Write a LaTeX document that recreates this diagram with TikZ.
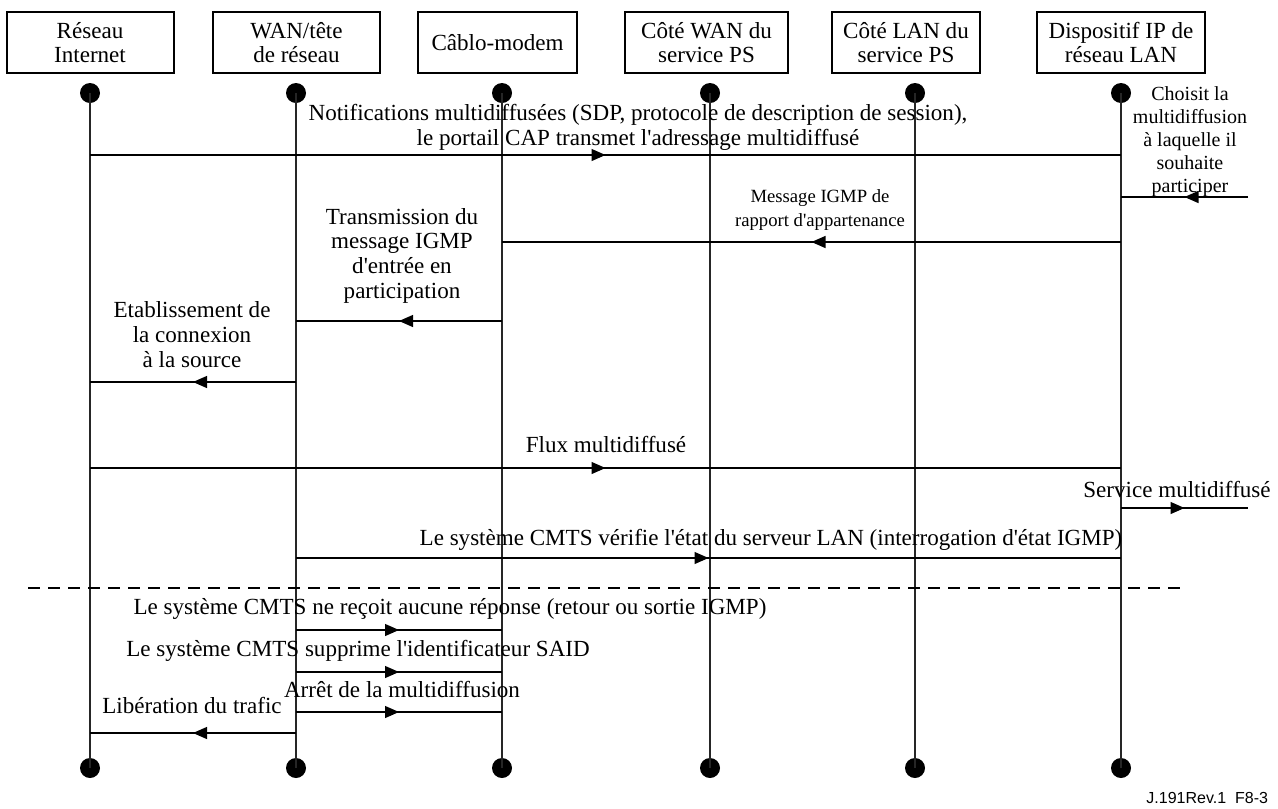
\documentclass[tikz,border=0pt]{standalone}
\usepackage{fontspec}
% a separate family keeps straight apostrophes (no TeX ligature mapping)
\newfontfamily\txtfont{Liberation Serif}
\newfontfamily\footfont{Liberation Sans}
\usetikzlibrary{arrows.meta,decorations.markings}

\begin{document}
\begin{tikzpicture}[x=0.75pt,y=-0.75pt,
  every node/.style={inner sep=0pt, outer sep=0pt},
  actor/.style={draw, line width=1.5pt, align=center, minimum height=45.75pt,
    font=\txtfont\fontsize{17.3}{18.4}\selectfont},
  dot/.style={circle, fill=black, minimum size=15pt},
  life/.style={line width=0.8pt, draw=black!85},
  msg/.style={line width=0.9pt, postaction={decorate},
    decoration={markings, mark=at position 0.5 with {\arrow{Triangle[length=10.5pt,width=9pt]}}}},
  lbl/.style={align=center, anchor=south, text depth=0pt,
    font=\txtfont\fontsize{17.3}{18.4}\selectfont},
  smalllbl/.style={lbl, font=\txtfont\fontsize{14}{18}\selectfont},
  sidelbl/.style={lbl, font=\txtfont\fontsize{15}{17.25}\selectfont},
  sep/.style={line width=1.5pt, dash pattern=on 9pt off 6pt},
]
\useasboundingbox (0,0) rectangle (1278,808);

% participants
\node[actor, minimum width=125.25pt] (b1) at (90,42.5)   {Réseau\\Internet};
\node[actor, minimum width=125.25pt] (b2) at (296.5,42.5) {WAN/tête\\de réseau};
\node[actor, minimum width=119.25pt] (b3) at (497.5,42.5) {Câblo-modem};
\node[actor, minimum width=122.25pt] (b4) at (706.5,42.5) {Côté WAN du\\service PS};
\node[actor, minimum width=111pt]    (b5) at (906,42.5)   {Côté LAN du\\service PS};
\node[actor, minimum width=126pt]    (b6) at (1121,42.5)  {Dispositif IP de\\réseau LAN};

% lifeline ends
\foreach \i/\x in {1/90,2/296,3/502,4/710,5/915,6/1121}{
  \node[dot] (t\i) at (\x,93) {};
  \node[dot] (e\i) at (\x,768) {};
  \draw[life] (t\i.center) -- (e\i.center);
}

% message levels
\coordinate (y1) at (0,155);
\coordinate (y2) at (0,242);
\coordinate (y3) at (0,321);
\coordinate (y4) at (0,382);
\coordinate (y5) at (0,468);
\coordinate (y6) at (0,558);
\coordinate (y7) at (0,630);
\coordinate (y8) at (0,672);
\coordinate (y9) at (0,712);
\coordinate (y10) at (0,733);
\coordinate (ext1) at (1248,197);
\coordinate (ext2) at (1248,508);
\coordinate (dashL) at (28,588);
\coordinate (dashR) at (1185,588);

% messages
\draw[msg] (t1 |- y1) -- (t6 |- y1);
\node[lbl] (l1) at (638,145) {Notifications multidiffusées (SDP, protocole de description de session),\\le portail CAP transmet l'adressage multidiffusé};

\draw[msg] (ext1) -- (t6 |- ext1);
\node[sidelbl] (l0) at (1190,192) {Choisit la\\multidiffusion\\à laquelle il\\souhaite\\participer};

\draw[msg] (t6 |- y2) -- (t3 |- y2);
\node[smalllbl] (l2) at (820,226) {Message IGMP de\\rapport d'appartenance};

\draw[msg] (t3 |- y3) -- (t2 |- y3);
\node[lbl] (l3) at (402,298) {Transmission du\\message IGMP\\d'entrée en\\participation};

\draw[msg] (t2 |- y4) -- (t1 |- y4);
\node[lbl] (l4) at (192,367) {Etablissement de\\la connexion\\à la source};

\draw[msg] (t1 |- y5) -- (t6 |- y5);
\node[lbl] (l5) at (606,452) {Flux multidiffusé};

\draw[msg] (t6 |- ext2) -- (ext2);
\node[lbl] (l6) at (1177,497) {Service multidiffusé};

\draw[msg] (t2 |- y6) -- (t6 |- y6);
\node[lbl] (l7) at (771,545) {Le système CMTS vérifie l'état du serveur LAN (interrogation d'état IGMP)};

\draw[sep] (dashL) -- (dashR);

\draw[msg] (t2 |- y7) -- (t3 |- y7);
\node[lbl] (l8) at (450,614) {Le système CMTS ne reçoit aucune réponse (retour ou sortie IGMP)};

\draw[msg] (t2 |- y8) -- (t3 |- y8);
\node[lbl] (l9) at (358,656) {Le système CMTS supprime l'identificateur SAID};

\draw[msg] (t2 |- y9) -- (t3 |- y9);
\node[lbl] (l10) at (402,697) {Arrêt de la multidiffusion};

\draw[msg] (t2 |- y10) -- (t1 |- y10);
\node[lbl] (l11) at (192,713) {Libération du trafic};

% figure reference
\node[anchor=base east, font=\footfont\fontsize{12}{14}\selectfont] (ref) at (1268,803) {J.191Rev.1\ \ F8-3};
\end{tikzpicture}
\end{document}
